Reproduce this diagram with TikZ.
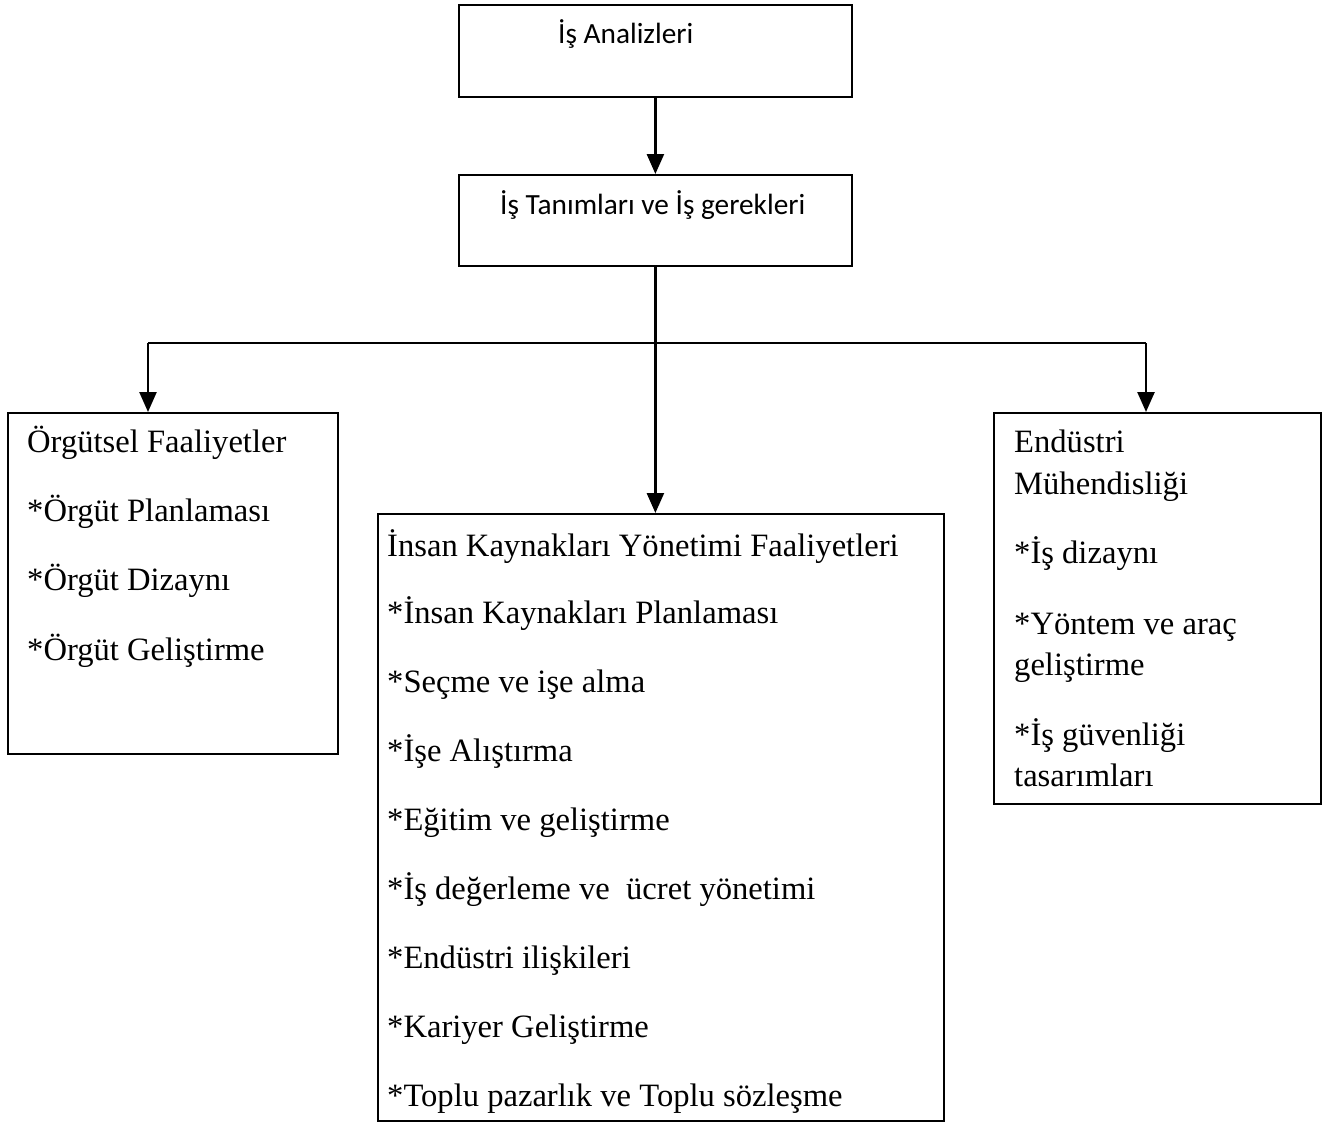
\documentclass[tikz,border=0pt]{standalone}
\usepackage{fontspec}
\setmainfont{Liberation Serif}
\newfontfamily\calfont{Carlito}
\usetikzlibrary{arrows.meta}
\begin{document}
\begin{tikzpicture}[x=1pt,y=-1pt,
  box/.style={draw=black,line width=1.8pt,rectangle,inner sep=0pt,anchor=north west},
  ln/.style={anchor=base west,inner sep=0pt,font=\fontsize{32.6}{38}\selectfont},
  cl/.style={anchor=base west,inner sep=0pt,font=\calfont\fontsize{29.3}{35}\selectfont},
  conn/.style={line width=2.5pt},
  arr/.style={line width=2.5pt,-{Triangle[length=20pt,width=17pt]}}]
\useasboundingbox (0,0) rectangle (1336,1124);
\fill[white] (0,0) rectangle (1336,1124);
% boxes
\node[box,minimum width=393pt,minimum height=92pt] (b1) at (458,4) {};
\node[box,minimum width=393pt,minimum height=91pt] (b2) at (458,174) {};
\node[box,minimum width=330pt,minimum height=341pt] (left) at (7,412) {};
\node[box,minimum width=566pt,minimum height=607pt] (center) at (377,513) {};
\node[box,minimum width=327pt,minimum height=391pt] (right) at (993,412) {};
% top texts
\node[cl] (t1) at (558,44) {İş Analizleri};
\node[cl] (t2) at (500,214) {İş Tanımları ve İş gerekleri};
% left texts
\node[ln] (l1) at (27,452) {Örgütsel Faaliyetler};
\node[ln] (l2) at (27,521) {*Örgüt Planlaması};
\node[ln] (l3) at (27,590) {*Örgüt Dizaynı};
\node[ln] (l4) at (27,660) {*Örgüt Geliştirme};
% center texts
\node[ln] (c1) at (387,556) {İnsan Kaynakları Yönetimi Faaliyetleri};
\node[ln] (c2) at (387,623) {*İnsan Kaynakları Planlaması};
\node[ln] (c3) at (387,692) {*Seçme ve işe alma};
\node[ln] (c4) at (387,761) {*İşe Alıştırma};
\node[ln] (c5) at (387,830) {*Eğitim ve geliştirme};
\node[ln] (c6) at (387,899) {*İş değerleme ve\ \ ücret yönetimi};
\node[ln] (c7) at (387,968) {*Endüstri ilişkileri};
\node[ln] (c8) at (387,1037) {*Kariyer Geliştirme};
\node[ln] (c9) at (387,1106) {*Toplu pazarlık ve Toplu sözleşme};
% right texts
\node[ln] (r1) at (1014,452) {Endüstri};
\node[ln] (r2) at (1014,494) {Mühendisliği};
\node[ln] (r3) at (1014,563) {*İş dizaynı};
\node[ln] (r4) at (1014,634) {*Yöntem ve araç};
\node[ln] (r5) at (1014,675) {geliştirme};
\node[ln] (r6) at (1014,745) {*İş güvenliği};
\node[ln] (r7) at (1014,786) {tasarımları};
% connectors
\coordinate (j) at (654,343);
\coordinate (jl) at (148,343);
\coordinate (jr) at (1146,343);
\draw[arr] (b1.south) -- (b2.north);
\draw[arr] (b2.south) -- (b2.south |- center.north);
\draw[conn] (jl) -- (jr);
\draw[arr] (jl) -- (jl |- left.north);
\draw[arr] (jr) -- (jr |- right.north);
\end{tikzpicture}
\end{document}
